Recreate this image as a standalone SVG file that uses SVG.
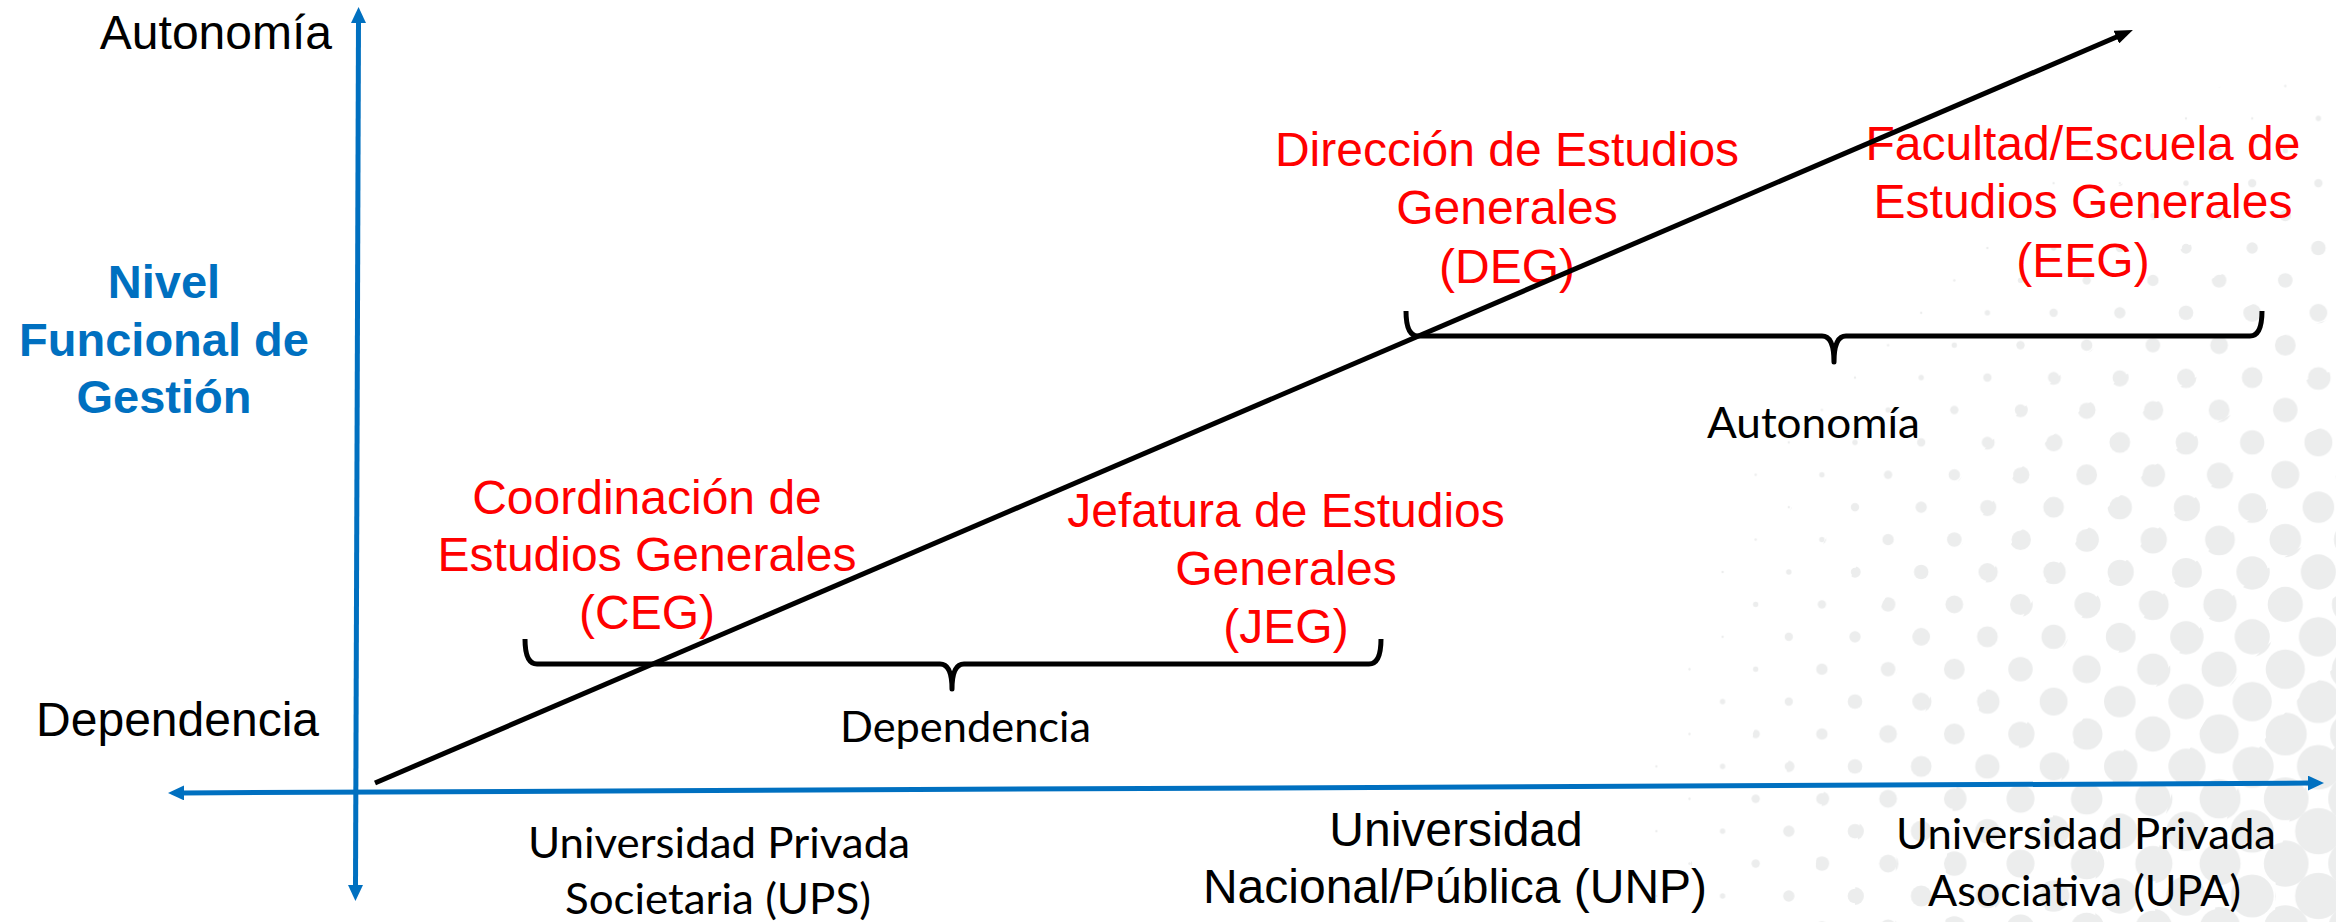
<svg xmlns="http://www.w3.org/2000/svg" width="2336" height="922" viewBox="0 0 2336 922">
<style>
.ar{font-family:'Liberation Sans',Arial,sans-serif;font-size:48px;}
.red{fill:#FF0000;text-anchor:middle;}
.blk{fill:#000000;}
.cal{font-family:Lato,'Open Sans','Liberation Sans',sans-serif;font-size:43px;fill:#000000;}
.blue{font-family:'Liberation Sans',Arial,sans-serif;font-size:47px;font-weight:bold;fill:#0070C0;text-anchor:middle;}
.axis{stroke:#0070C0;stroke-width:5;fill:none;marker-start:url(#blueArrow);marker-end:url(#blueArrow);}
.brace{stroke:#000000;stroke-width:5;fill:none;stroke-linejoin:round;}
.diag{stroke:#000000;stroke-width:5;fill:none;marker-end:url(#blackArrow);}
.dots{fill:#ECEDED;}
</style>
<defs>
<marker id="blueArrow" viewBox="0 0 16 15" refX="2" refY="7.5" markerWidth="16" markerHeight="15" markerUnits="userSpaceOnUse" orient="auto-start-reverse"><path d="M0,0 L16,7.5 L0,15 z" fill="#0070C0"/></marker>
<marker id="blackArrow" viewBox="0 0 18 14" refX="4" refY="7" markerWidth="18" markerHeight="14" markerUnits="userSpaceOnUse" orient="auto"><path d="M0,0 L18,7 L0,14 z" fill="#000000"/></marker>
<pattern id="p1" patternUnits="userSpaceOnUse" x="1855" y="572" width="66.2" height="64.8"><g class="dots"><circle r="1.2"/><circle cx="66.2" r="1.2"/><circle cy="64.8" r="1.2"/><circle cx="66.2" cy="64.8" r="1.2"/><circle cx="33.1" cy="32.4" r="1.2"/></g></pattern>
<pattern id="p2" patternUnits="userSpaceOnUse" x="1855" y="572" width="66.2" height="64.8"><g class="dots"><circle r="2.7"/><circle cx="66.2" r="2.7"/><circle cy="64.8" r="2.7"/><circle cx="66.2" cy="64.8" r="2.7"/><circle cx="33.1" cy="32.4" r="2.7"/></g></pattern>
<pattern id="p3" patternUnits="userSpaceOnUse" x="1855" y="572" width="66.2" height="64.8"><g class="dots"><circle r="4.2"/><circle cx="66.2" r="4.2"/><circle cy="64.8" r="4.2"/><circle cx="66.2" cy="64.8" r="4.2"/><circle cx="33.1" cy="32.4" r="4.2"/></g></pattern>
<pattern id="p4" patternUnits="userSpaceOnUse" x="1855" y="572" width="66.2" height="64.8"><g class="dots"><circle r="5.7"/><circle cx="66.2" r="5.7"/><circle cy="64.8" r="5.7"/><circle cx="66.2" cy="64.8" r="5.7"/><circle cx="33.1" cy="32.4" r="5.7"/></g></pattern>
<pattern id="p5" patternUnits="userSpaceOnUse" x="1855" y="572" width="66.2" height="64.8"><g class="dots"><circle r="7.3"/><circle cx="66.2" r="7.3"/><circle cy="64.8" r="7.3"/><circle cx="66.2" cy="64.8" r="7.3"/><circle cx="33.1" cy="32.4" r="7.3"/></g></pattern>
<pattern id="p6" patternUnits="userSpaceOnUse" x="1855" y="572" width="66.2" height="64.8"><g class="dots"><circle r="8.9"/><circle cx="66.2" r="8.9"/><circle cy="64.8" r="8.9"/><circle cx="66.2" cy="64.8" r="8.9"/><circle cx="33.1" cy="32.4" r="8.9"/></g></pattern>
<pattern id="p7" patternUnits="userSpaceOnUse" x="1855" y="572" width="66.2" height="64.8"><g class="dots"><circle r="10.4"/><circle cx="66.2" r="10.4"/><circle cy="64.8" r="10.4"/><circle cx="66.2" cy="64.8" r="10.4"/><circle cx="33.1" cy="32.4" r="10.4"/></g></pattern>
<pattern id="p8" patternUnits="userSpaceOnUse" x="1855" y="572" width="66.2" height="64.8"><g class="dots"><circle r="12.2"/><circle cx="66.2" r="12.2"/><circle cy="64.8" r="12.2"/><circle cx="66.2" cy="64.8" r="12.2"/><circle cx="33.1" cy="32.4" r="12.2"/></g></pattern>
<pattern id="p9" patternUnits="userSpaceOnUse" x="1855" y="572" width="66.2" height="64.8"><g class="dots"><circle r="14"/><circle cx="66.2" r="14"/><circle cy="64.8" r="14"/><circle cx="66.2" cy="64.8" r="14"/><circle cx="33.1" cy="32.4" r="14"/></g></pattern>
<pattern id="p10" patternUnits="userSpaceOnUse" x="1855" y="572" width="66.2" height="64.8"><g class="dots"><circle r="15.8"/><circle cx="66.2" r="15.8"/><circle cy="64.8" r="15.8"/><circle cx="66.2" cy="64.8" r="15.8"/><circle cx="33.1" cy="32.4" r="15.8"/></g></pattern>
<pattern id="p11" patternUnits="userSpaceOnUse" x="1855" y="572" width="66.2" height="64.8"><g class="dots"><circle r="17.6"/><circle cx="66.2" r="17.6"/><circle cy="64.8" r="17.6"/><circle cx="66.2" cy="64.8" r="17.6"/><circle cx="33.1" cy="32.4" r="17.6"/></g></pattern>
<pattern id="p12" patternUnits="userSpaceOnUse" x="1855" y="572" width="66.2" height="64.8"><g class="dots"><circle r="19.6"/><circle cx="66.2" r="19.6"/><circle cy="64.8" r="19.6"/><circle cx="66.2" cy="64.8" r="19.6"/><circle cx="33.1" cy="32.4" r="19.6"/></g></pattern>
<pattern id="p13" patternUnits="userSpaceOnUse" x="1855" y="572" width="66.2" height="64.8"><g class="dots"><circle r="21.5"/><circle cx="66.2" r="21.5"/><circle cy="64.8" r="21.5"/><circle cx="66.2" cy="64.8" r="21.5"/><circle cx="33.1" cy="32.4" r="21.5"/></g></pattern>
<pattern id="p14" patternUnits="userSpaceOnUse" x="1855" y="572" width="66.2" height="64.8"><g class="dots"><circle r="23.3"/><circle cx="66.2" r="23.3"/><circle cy="64.8" r="23.3"/><circle cx="66.2" cy="64.8" r="23.3"/><circle cx="33.1" cy="32.4" r="23.3"/></g></pattern>
<pattern id="p15" patternUnits="userSpaceOnUse" x="1855" y="572" width="66.2" height="64.8"><g class="dots"><circle r="25.2"/><circle cx="66.2" r="25.2"/><circle cy="64.8" r="25.2"/><circle cx="66.2" cy="64.8" r="25.2"/><circle cx="33.1" cy="32.4" r="25.2"/></g></pattern>
<pattern id="p16" patternUnits="userSpaceOnUse" x="1855" y="572" width="66.2" height="64.8"><g class="dots"><circle r="27.2"/><circle cx="66.2" r="27.2"/><circle cy="64.8" r="27.2"/><circle cx="66.2" cy="64.8" r="27.2"/><circle cx="33.1" cy="32.4" r="27.2"/></g></pattern>
</defs>
<rect width="2336" height="922" fill="#FFFFFF"/>
<g id="background-dots">
<circle cx="2500" cy="900" r="860" fill="url(#p1)"/>
<circle cx="2500" cy="900" r="810" fill="url(#p2)"/>
<circle cx="2500" cy="900" r="765" fill="url(#p3)"/>
<circle cx="2500" cy="900" r="725" fill="url(#p4)"/>
<circle cx="2500" cy="900" r="685" fill="url(#p5)"/>
<circle cx="2500" cy="900" r="645" fill="url(#p6)"/>
<circle cx="2500" cy="900" r="605" fill="url(#p7)"/>
<circle cx="2500" cy="900" r="555" fill="url(#p8)"/>
<circle cx="2500" cy="900" r="505" fill="url(#p9)"/>
<circle cx="2500" cy="900" r="455" fill="url(#p10)"/>
<circle cx="2500" cy="900" r="405" fill="url(#p11)"/>
<circle cx="2500" cy="900" r="345" fill="url(#p12)"/>
<circle cx="2500" cy="900" r="285" fill="url(#p13)"/>
<circle cx="2500" cy="900" r="225" fill="url(#p14)"/>
<circle cx="2500" cy="900" r="165" fill="url(#p15)"/>
<circle cx="2500" cy="900" r="105" fill="url(#p16)"/>
</g>
<g id="axis-labels">
<text id="y-top" class="ar blk" x="332" y="49" text-anchor="end">Autonomía</text>
<text id="y-bottom" class="ar blk" x="319" y="736" text-anchor="end">Dependencia</text>
<text id="y-title" class="blue"><tspan x="164" y="298">Nivel</tspan><tspan x="164" y="356">Funcional de</tspan><tspan x="164" y="413">Gestión</tspan></text>
</g>
<g id="node-ceg"><text class="ar red"><tspan x="647" y="514">Coordinación de</tspan><tspan x="647" y="571">Estudios Generales</tspan><tspan x="647" y="629">(CEG)</tspan></text></g>
<g id="node-jeg"><text class="ar red"><tspan x="1286" y="527">Jefatura de Estudios</tspan><tspan x="1286" y="585">Generales</tspan><tspan x="1286" y="643">(JEG)</tspan></text></g>
<g id="node-deg"><text class="ar red"><tspan x="1507" y="166">Dirección de Estudios</tspan><tspan x="1507" y="224">Generales</tspan><tspan x="1507" y="283">(DEG)</tspan></text></g>
<g id="node-eeg"><text class="ar red"><tspan x="2083" y="160">Facultad/Escuela de</tspan><tspan x="2083" y="218">Estudios Generales</tspan><tspan x="2083" y="277">(EEG)</tspan></text></g>
<g id="brace-dependencia">
<path class="brace" d="M525,639 Q525,664 537,664 H940 Q952,664 952,689 Q952,664 964,664 H1369 Q1381,664 1381,639"/>
<text class="cal" x="840" y="742" textLength="251" lengthAdjust="spacingAndGlyphs">Dependencia</text>
</g>
<g id="brace-autonomia">
<path class="brace" d="M1406,311 Q1406,336 1418,336 H1822 Q1834,336 1834,362 Q1834,336 1846,336 H2250 Q2262,336 2262,311"/>
<text class="cal" x="1707" y="438" textLength="213" lengthAdjust="spacingAndGlyphs">Autonomía</text>
</g>
<g id="node-ups">
<text class="cal" x="528" y="858" textLength="382" lengthAdjust="spacingAndGlyphs">Universidad Privada</text>
<text class="cal" x="565" y="914" textLength="306" lengthAdjust="spacingAndGlyphs">Societaria (UPS)</text>
</g>
<g id="node-unp"><text class="ar blk" text-anchor="middle"><tspan x="1456" y="846">Universidad</tspan><tspan x="1455" y="903">Nacional/Pública (UNP)</tspan></text></g>
<g id="node-upa">
<text class="cal" x="1896" y="849" textLength="380" lengthAdjust="spacingAndGlyphs">Universidad Privada</text>
<text class="cal" x="1928" y="906" textLength="313" lengthAdjust="spacingAndGlyphs">Asociativa (UPA)</text>
</g>
<g id="connectors">
<path class="axis" d="M355.5,887 L358.5,21"/>
<path class="axis" d="M182,792.9 L2310,783.1"/>
<path class="diag" d="M375,783 L2120,35.5"/>
</g>
</svg>
